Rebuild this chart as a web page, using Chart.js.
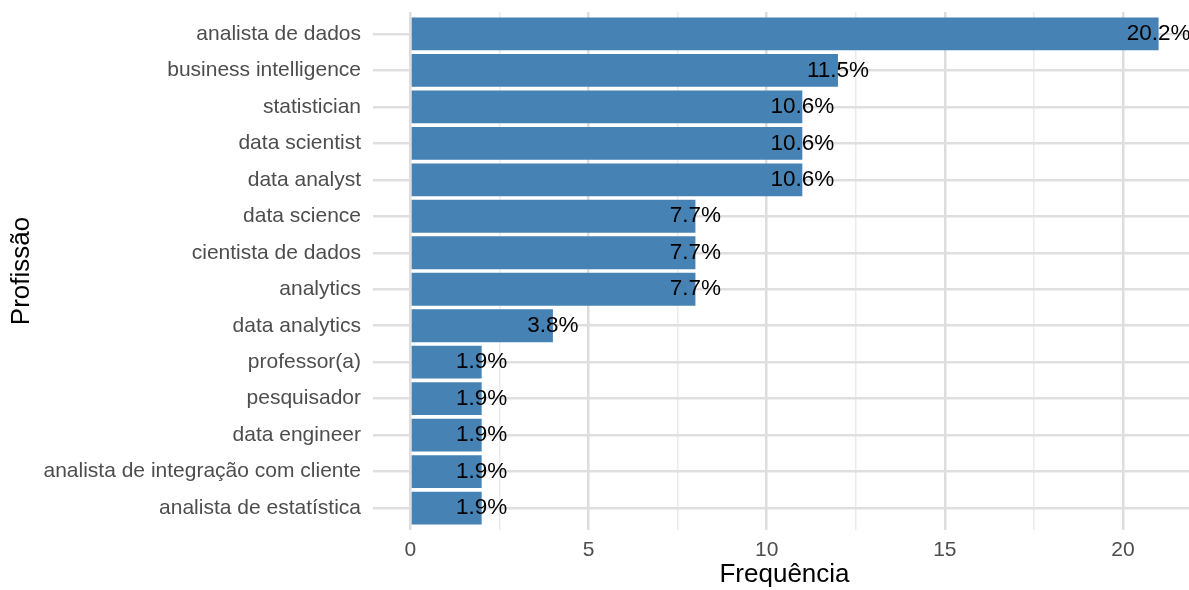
<!DOCTYPE html>
<html>
<head>
<meta charset="utf-8">
<script src="https://cdn.jsdelivr.net/npm/chart.js@4.4.1/dist/chart.umd.min.js"></script>
<style>
  html, body { margin: 0; padding: 0; background: #ffffff; overflow: hidden; }
  #wrap { width: 1189px; height: 590px; }
</style>
</head>
<body>
<div id="wrap"><canvas id="c" width="1189" height="590"></canvas></div>
<script>
const categories = [
  'analista de dados',
  'business intelligence',
  'statistician',
  'data scientist',
  'data analyst',
  'data science',
  'cientista de dados',
  'analytics',
  'data analytics',
  'professor(a)',
  'pesquisador',
  'data engineer',
  'analista de integração com cliente',
  'analista de estatística'
];
const counts = [21, 12, 11, 11, 11, 8, 8, 8, 4, 2, 2, 2, 2, 2];
const percentLabels = ['20.2%', '11.5%', '10.6%', '10.6%', '10.6%', '7.7%', '7.7%', '7.7%', '3.8%', '1.9%', '1.9%', '1.9%', '1.9%', '1.9%'];
const xTickValues = [0, 5, 10, 15, 20];

const FONT = '"Liberation Sans", Arial, sans-serif';
const PANEL_RIGHT = 1196; // ggplot panel extends slightly past the image edge

const barLabelPlugin = {
  id: 'barLabels',
  afterDatasetsDraw(chart) {
    const ctx = chart.ctx;
    const xs = chart.scales.x, ys = chart.scales.y;
    ctx.save();
    ctx.font = '22.5px ' + FONT;
    ctx.fillStyle = '#000000';
    ctx.textAlign = 'center';
    ctx.textBaseline = 'middle';
    counts.forEach((v, i) => {
      ctx.fillText(percentLabels[i], xs.getPixelForValue(v), ys.getPixelForValue(i));
    });
    ctx.restore();
  }
};

const extendPanelPlugin = {
  id: 'extendPanel',
  afterLayout(chart) {
    const s = chart.scales.x;
    s.right = PANEL_RIGHT;
    s.width = s.right - s.left;
    chart.chartArea.right = PANEL_RIGHT;
    chart.chartArea.width = PANEL_RIGHT - chart.chartArea.left;
    s.configure();
  }
};

const isMajor = (v) => xTickValues.includes(v);
const noPad = (s) => { s.paddingTop = 0; s.paddingBottom = 0; s.paddingLeft = 0; s.paddingRight = 0; };

new Chart(document.getElementById('c'), {
  type: 'bar',
  data: {
    datasets: [{
      data: counts.map((c, i) => ({ x: c, y: i })),
      backgroundColor: '#4682B4',
      borderWidth: 0,
      categoryPercentage: 1.0,
      barPercentage: 0.9
    }]
  },
  options: {
    indexAxis: 'y',
    responsive: false,
    animation: false,
    layout: { padding: { top: 12, right: 0, bottom: 0, left: 0 } },
    plugins: { legend: { display: false }, tooltip: { enabled: false } },
    scales: {
      x: {
        type: 'linear',
        position: 'bottom',
        offset: false,
        min: -1.05,
        max: 22.05,
        border: { display: false },
        grid: {
          offset: false,
          drawTicks: false,
          color: (c) => isMajor(c.tick.value) ? '#DDDDDD' : '#EBEBEB',
          lineWidth: (c) => isMajor(c.tick.value) ? 2.5 : 1.5
        },
        ticks: {
          stepSize: 2.5,
          includeBounds: false,
          autoSkip: false,
          maxRotation: 0,
          padding: 8,
          color: '#4D4D4D',
          font: { family: FONT, size: 21 },
          callback: (v) => isMajor(v) ? String(v) : ''
        },
        title: {
          display: true,
          text: 'Frequência',
          color: '#000000',
          font: { family: FONT, size: 26 },
          padding: { top: 0, bottom: 0 }
        },
        afterFit: (s) => { s.height = 60; noPad(s); }
      },
      y: {
        type: 'linear',
        position: 'left',
        offset: false,
        reverse: true,
        min: -0.6,
        max: 13.6,
        border: { display: false },
        grid: {
          offset: false,
          drawTicks: false,
          color: '#DFDFDF',
          lineWidth: 2.5
        },
        ticks: {
          stepSize: 1,
          includeBounds: false,
          autoSkip: false,
          padding: 12,
          color: '#4D4D4D',
          font: { family: FONT, size: 21 },
          callback: (v) => categories[v] !== undefined ? categories[v] : ''
        },
        title: {
          display: true,
          text: 'Profissão',
          color: '#000000',
          font: { family: FONT, size: 26 },
          padding: { top: 6, bottom: 0 }
        },
        afterFit: (s) => { s.width = 373; noPad(s); }
      }
    }
  },
  plugins: [extendPanelPlugin, barLabelPlugin]
});
</script>
</body>
</html>
